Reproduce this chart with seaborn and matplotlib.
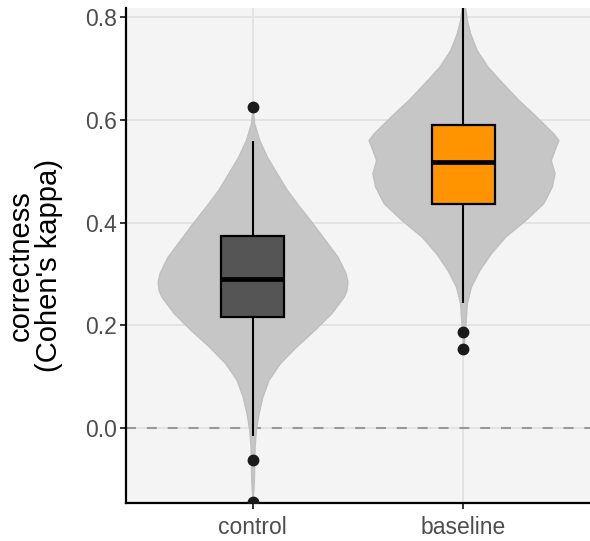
import numpy as np
import pandas as pd
import matplotlib
matplotlib.use("Agg")
import matplotlib.pyplot as plt
import seaborn as sns

# ---- data ----
categories = ["control", "baseline"]
box_colors = ["#555555", "#FF9300"]

# representative samples (whisker ends, quartiles, median, outliers)
control_values = [-0.144, -0.062, -0.015, 0.217, 0.25, 0.27, 0.291,
                  0.32, 0.35, 0.375, 0.45, 0.56, 0.625]
baseline_values = [0.154, 0.187, 0.243, 0.437, 0.47, 0.50, 0.518,
                   0.54, 0.57, 0.590, 0.65, 0.72, 0.819]

# violin density profiles (value, relative half-width)
control_violin_y = [0.625, 0.594, 0.561, 0.529, 0.496, 0.464, 0.431, 0.399,
                    0.367, 0.334, 0.302, 0.285, 0.269, 0.256, 0.224, 0.191,
                    0.159, 0.127, 0.094, 0.062, 0.029, -0.003, -0.036,
                    -0.101, -0.144]
control_violin_w = [0.0, 0.016, 0.07, 0.15, 0.256, 0.361, 0.495, 0.632,
                    0.761, 0.895, 0.98, 1.0, 0.99, 0.96, 0.83, 0.65,
                    0.46, 0.29, 0.168, 0.105, 0.063, 0.035, 0.021,
                    0.014, 0.0]
baseline_violin_y = [0.85, 0.818, 0.795, 0.769, 0.736, 0.704, 0.672, 0.639,
                     0.607, 0.574, 0.561, 0.542, 0.522, 0.496, 0.470, 0.438,
                     0.405, 0.373, 0.341, 0.308, 0.276, 0.243, 0.211, 0.154]
baseline_violin_w = [0.005, 0.018, 0.035, 0.07, 0.14, 0.253, 0.41, 0.58,
                     0.765, 0.947, 1.0, 0.96, 0.92, 0.96, 0.93, 0.84,
                     0.65, 0.44, 0.29, 0.168, 0.079, 0.035, 0.024, 0.0]

y_ticks = [0.0, 0.2, 0.4, 0.6, 0.8]
y_label = "correctness\n(Cohen's kappa)"

# ---- figure ----
sns.set_theme(style="whitegrid")
plt.rcParams["font.family"] = ["Liberation Sans", "DejaVu Sans"]

fig = plt.figure(figsize=(5.90, 5.41), dpi=100)
ax = fig.add_axes([0.2136, 0.0708, 0.7864, 0.9139])
ax.set_facecolor("#F4F4F4")

violins = [(control_violin_y, control_violin_w),
           (baseline_violin_y, baseline_violin_w)]
for i, (vy, vw) in enumerate(violins):
    vy = np.asarray(vy)
    vw = np.asarray(vw) * 0.45
    ax.fill_betweenx(vy, i - vw, i + vw, facecolor="#C6C6C6",
                     edgecolor="#BFBFBF", linewidth=1.0, zorder=1)

ax.axhline(0, color="#999999", linewidth=1.5,
           linestyle=(0, (4.8, 5.2)), zorder=0.8)

df = pd.DataFrame({
    "group": ["control"] * len(control_values) + ["baseline"] * len(baseline_values),
    "value": control_values + baseline_values,
})
sns.boxplot(data=df, x="group", y="value", hue="group", order=categories,
            hue_order=categories, palette=dict(zip(categories, box_colors)),
            width=0.3, saturation=1, linewidth=1.5, showcaps=False,
            legend=False, ax=ax,
            boxprops=dict(edgecolor="black", linewidth=1.6, zorder=3),
            medianprops=dict(color="black", linewidth=3.4, zorder=4),
            whiskerprops=dict(color="black", linewidth=1.5, zorder=2),
            flierprops=dict(marker="o", markerfacecolor="#1A1A1A",
                            markeredgecolor="#1A1A1A", markersize=7.5,
                            zorder=5))

ax.set_xlim(-0.6, 1.6)
ax.set_ylim(-0.145, 0.8175)
ax.set_yticks(y_ticks)
ax.set_yticklabels([f"{t:.1f}" for t in y_ticks])
ax.set_xlabel("")
ax.set_ylabel(y_label, fontsize=21, color="black", labelpad=7,
              linespacing=1.05)
ax.yaxis.set_label_coords(-0.135, 0.48)

ax.grid(True, color="#E3E3E3", linewidth=1.4, zorder=0)
ax.set_axisbelow(True)
for side in ["top", "right"]:
    ax.spines[side].set_visible(False)
for side in ["left", "bottom"]:
    ax.spines[side].set_visible(True)
    ax.spines[side].set_color("black")
    ax.spines[side].set_linewidth(1.6)

ax.tick_params(axis="both", which="both", length=4.5, width=1.4,
               color="#333333", labelcolor="#4D4D4D", labelsize=16.5,
               left=True, bottom=True, pad=2)
ax.tick_params(axis="x", pad=5)

fig.savefig("out.png", dpi=100, facecolor="white")
